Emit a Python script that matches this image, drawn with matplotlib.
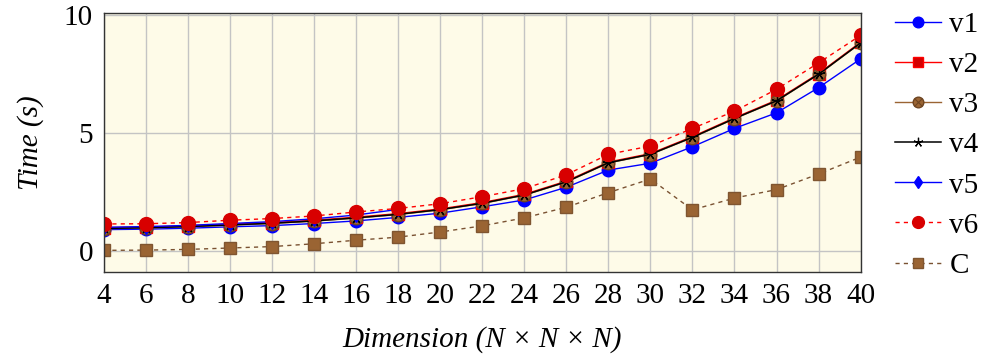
import matplotlib.pyplot as plt
from matplotlib.legend_handler import HandlerTuple

# data
dims = [4, 6, 8, 10, 12, 14, 16, 18, 20, 22, 24, 26, 28, 30, 32, 34, 36, 38, 40]
v1 = [0.90, 0.92, 0.96, 1.02, 1.07, 1.16, 1.27, 1.42, 1.60, 1.87, 2.16, 2.70,
      3.43, 3.72, 4.42, 5.20, 5.86, 6.93, 8.15]
v2 = [0.98, 1.01, 1.06, 1.13, 1.20, 1.30, 1.43, 1.58, 1.78, 2.05, 2.40, 2.96,
      3.77, 4.13, 4.85, 5.65, 6.40, 7.53, 8.86]
v3 = [0.94, 0.97, 1.02, 1.09, 1.16, 1.26, 1.39, 1.54, 1.74, 2.01, 2.36, 2.92,
      3.73, 4.09, 4.81, 5.61, 6.36, 7.49, 8.82]
v4 = [0.95, 0.98, 1.03, 1.10, 1.17, 1.27, 1.40, 1.55, 1.75, 2.02, 2.37, 2.93,
      3.74, 4.10, 4.82, 5.62, 6.37, 7.50, 8.83]
dims_v5 = [4, 6, 8, 10, 12, 14, 16, 18]
v5 = [1.00, 1.03, 1.08, 1.16, 1.24, 1.36, 1.52, 1.76]
v6 = [1.14, 1.15, 1.20, 1.30, 1.37, 1.48, 1.65, 1.80, 2.00, 2.30, 2.64, 3.23,
      4.10, 4.45, 5.20, 5.93, 6.86, 7.98, 9.15]
c_times = [0.02, 0.03, 0.06, 0.12, 0.18, 0.30, 0.45, 0.58, 0.80, 1.06, 1.40, 1.85,
           2.47, 3.05, 1.74, 2.24, 2.60, 3.26, 3.98]

plt.rcParams['font.family'] = ['Liberation Serif', 'DejaVu Serif']
plt.rcParams['font.size'] = 21

brown = '#9a6433'
dash = (0, (3, 3))

fig = plt.figure(figsize=(9.85, 3.62), dpi=100)
ax = fig.add_axes([0.1056, 0.2486, 0.7681, 0.7155])
ax.set_facecolor('#fefbe8')

l1, = ax.plot(dims, v1, '-o', color='blue', lw=1, ms=9, label='v1')
l2, = ax.plot(dims, v2, '-s', color='red', mfc='#d40000', mec='red', lw=1, ms=9,
              label='v2')
l3, = ax.plot(dims, v3, '-o', color=brown, mfc=brown, mec='#6e4522', lw=1, ms=9,
              label='v3')
l3x, = ax.plot(dims, v3, 'x', color='#6e4522', ms=6, mew=0.8)
l4, = ax.plot(dims, v4, '-', color='black', marker=(5, 2), ms=8, mew=0.9, lw=1.1,
              label='v4')
l5, = ax.plot(dims_v5, v5, '-d', color='blue', lw=1, ms=7, label='v5')
l6, = ax.plot(dims, v6, 'o', ls=dash, color='red', mfc='#d80000', mec='#d80000',
              lw=1, ms=10, label='v6')
lc, = ax.plot(dims, c_times, 's', ls=dash, color='#7a5232', mfc=brown, mec='#7f5530',
              lw=1, ms=9, label='C')

ax.set_xlim(4, 40)
ax.set_ylim(-0.9, 10.1)
ax.set_xticks(dims)
ax.set_yticks([0, 5, 10])
ax.tick_params(length=0, pad=8)
ax.grid(True, color='#c4c4c4', lw=1)
ax.set_axisbelow(True)
for s in ax.spines.values():
    s.set_color('#333333')
    s.set_linewidth(1)

ax.set_xlabel('Dimension (N \u00d7 N \u00d7 N)', style='italic', labelpad=12)
ax.set_ylabel('Time (s)', style='italic', labelpad=14)

handles = [l1, l2, (l3, l3x), l4, l5, l6, lc]
labels = ['v1', 'v2', 'v3', 'v4', 'v5', 'v6', 'C']
fig.legend(handles, labels, loc='upper left', bbox_to_anchor=(0.909, 0.968),
           frameon=False, handlelength=1.55, handletextpad=0.3, labelspacing=0.47,
           borderpad=0, borderaxespad=0, markerscale=0.85,
           handler_map={tuple: HandlerTuple(ndivide=1, pad=0)})

fig.savefig('out.png', dpi=100)
